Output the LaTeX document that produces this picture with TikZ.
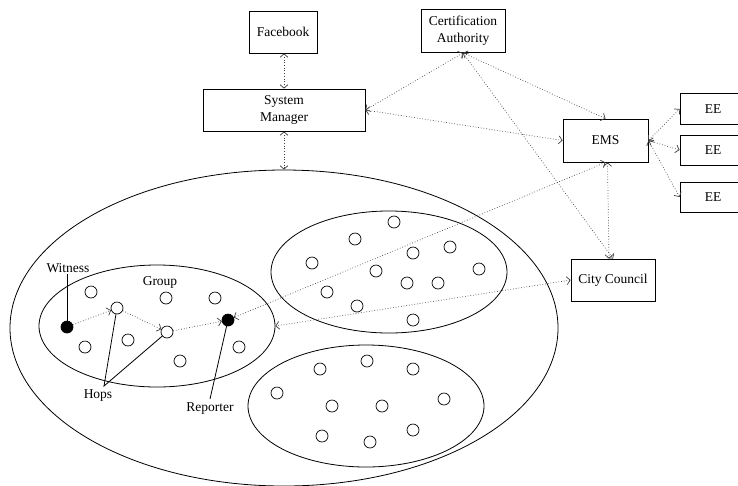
\documentclass[tikz,border=0pt]{standalone}
\usepackage{fontspec}
\setmainfont{Liberation Serif}
\usetikzlibrary{shapes.geometric,arrows.meta}
\begin{document}
\begin{tikzpicture}[x=1pt,y=-1pt,
  every node/.style={font=\fontsize{13.5}{17}\selectfont},
  box/.style={draw,line width=0.8pt,inner sep=0pt,align=center},
  ell/.style={draw,ellipse,line width=0.8pt,inner sep=0pt},
  nd/.style={draw,circle,minimum size=12pt,inner sep=0pt,line width=0.7pt},
  bn/.style={nd,fill=black},
  tip/.tip={Straight Barb[length=3.5pt,width=8pt]},
  lnk/.style={dotted,line width=0.7pt,black!75,tip-tip},
  one/.style={dotted,line width=0.7pt,black!75,-tip},
  lead/.style={line width=0.8pt},
  lbl/.style={inner sep=1pt}
]
\useasboundingbox (0,0) rectangle (738,485);
\clip (0,0) rectangle (738,485);

% boxes
\node[box,minimum width=68pt,minimum height=42pt] (fb) at (283,32) {Facebook};
\node[box,minimum width=84pt,minimum height=43pt] (ca) at (463,31) {Certification\\Authority};
\node[box,minimum width=162pt,minimum height=42pt] (sm) at (284,110) {System\\Manager};
\node[box,minimum width=85pt,minimum height=43pt] (ems) at (605.5,140.5) {EMS};
\node[box,minimum width=66pt,minimum height=31pt] (ee1) at (713,109) {EE};
\node[box,minimum width=66pt,minimum height=30pt] (ee2) at (713,150) {EE};
\node[box,minimum width=66pt,minimum height=30pt] (ee3) at (713,197) {EE};
\node[box,minimum width=84pt,minimum height=42pt] (cc) at (613,280) {City Council};

% ellipses
\node[ell,minimum width=548pt,minimum height=316pt] (big) at (284,328) {};
\node[ell,minimum width=236pt,minimum height=122pt] (grp) at (157,326) {};
\node[ell,minimum width=236pt,minimum height=122pt] (ur) at (389,272) {};
\node[ell,minimum width=236pt,minimum height=122pt] (lo) at (366,406) {};

% group nodes
\node[nd] (g1) at (91,292) {};
\node[nd] (g2) at (166,298) {};
\node[nd] (g3) at (215,298) {};
\node[nd] (h1) at (117,308) {};
\node[bn] (wit) at (67,327) {};
\node[nd] (h2) at (167,332) {};
\node[bn] (rep) at (228,320) {};
\node[nd] (g4) at (128,340) {};
\node[nd] (g5) at (85,347) {};
\node[nd] (g6) at (239,347) {};
\node[nd] (g7) at (180,361) {};

% upper right group
\node[nd] (u1) at (394,222) {};
\node[nd] (u2) at (355,239) {};
\node[nd] (u3) at (413,253) {};
\node[nd] (u4) at (450,247) {};
\node[nd] (u5) at (312,263) {};
\node[nd] (u6) at (376,271) {};
\node[nd] (u7) at (479,269) {};
\node[nd] (u8) at (407,283) {};
\node[nd] (u9) at (438,283) {};
\node[nd] (u10) at (327,292) {};
\node[nd] (u11) at (357,306) {};
\node[nd] (u12) at (413,320) {};

% lower group
\node[nd] (l1) at (367,361) {};
\node[nd] (l2) at (320,369) {};
\node[nd] (l3) at (413,369) {};
\node[nd] (l4) at (277,393) {};
\node[nd] (l5) at (332,406) {};
\node[nd] (l6) at (382,406) {};
\node[nd] (l7) at (444,399) {};
\node[nd] (l8) at (413,430) {};
\node[nd] (l9) at (322,436) {};
\node[nd] (l10) at (370,442) {};

% labels
\node[lbl] (witl) at (68,268) {Witness};
\node[lbl] (grpl) at (160,282) {Group};
\node[lbl] (hops) at (98,396) {Hops};
\node[lbl] (repl) at (210,409) {Reporter};
\coordinate (hp) at (104,386);
\coordinate (rp) at (210,399);

\draw[lead] (witl.south -| wit) -- (wit);
\draw[lead] (h1) -- (hp) -- (h2);
\draw[lead] (rp) -- (rep);

% connectors
\draw[lnk] (fb.south -| sm) -- (sm.north);
\draw[lnk] (sm.south) -- (big.north);
\draw[lnk] (sm.east) -- (ca.south);
\draw[lnk] (ca.south) -- (ems.north);
\draw[lnk] (sm.east) -- (ems.west);
\draw[lnk] (ca.south) -- (cc.north);
\draw[lnk] ([xshift=2pt]ems.south) -- ([xshift=-4pt]cc.north);
\draw[lnk] (ems.south) -- (rep);
\draw[lnk] (cc.west) -- (grp.east);
\draw[lnk] (ems.east) -- (ee1.west);
\draw[lnk] (ems.east) -- (ee2.west);
\draw[lnk] (ems.east) -- (ee3.west);
\draw[one] (wit) -- (h1);
\draw[one] (h1) -- (h2);
\draw[one] (h2) -- (rep);
\end{tikzpicture}
\end{document}
